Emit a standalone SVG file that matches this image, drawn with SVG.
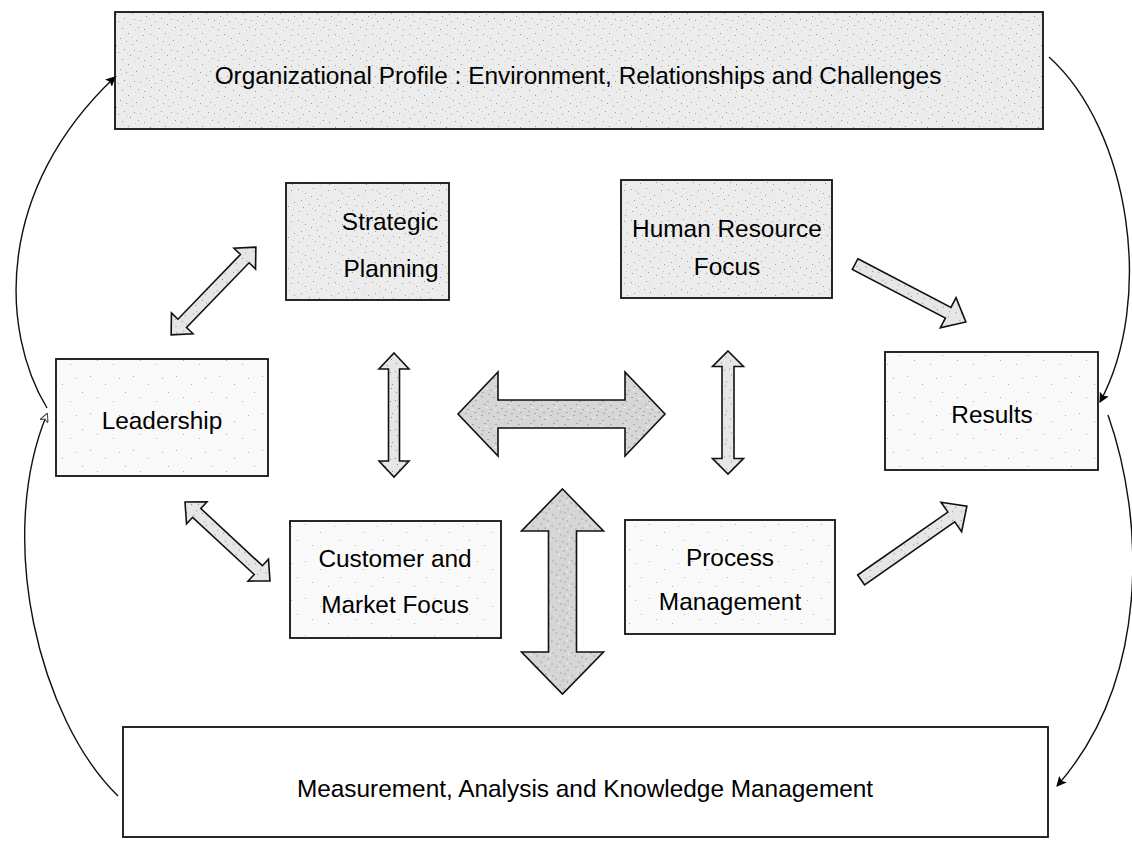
<svg xmlns="http://www.w3.org/2000/svg" width="1132" height="841" viewBox="0 0 1132 841">
<defs>
  <pattern id="spk" width="37" height="31" patternUnits="userSpaceOnUse">
    <rect width="37" height="31" fill="#ececec"/>
    <g fill="#9a9a9a">
      <rect x="2" y="3" width="1" height="1"/><rect x="9" y="7" width="1" height="1"/><rect x="17" y="2" width="1" height="1"/>
      <rect x="25" y="9" width="1" height="1"/><rect x="32" y="4" width="1" height="1"/><rect x="5" y="14" width="1" height="1"/>
      <rect x="13" y="18" width="1" height="1"/><rect x="21" y="13" width="1" height="1"/><rect x="29" y="20" width="1" height="1"/>
      <rect x="35" y="16" width="1" height="1"/><rect x="3" y="25" width="1" height="1"/><rect x="11" y="28" width="1" height="1"/>
      <rect x="19" y="24" width="1" height="1"/><rect x="27" y="27" width="1" height="1"/><rect x="33" y="29" width="1" height="1"/>
      <rect x="15" y="10" width="1" height="1"/><rect x="7" y="21" width="1" height="1"/><rect x="23" y="19" width="1" height="1"/>
    </g>
    <g fill="#c8c8c8">
      <rect x="6" y="5" width="1" height="1"/><rect x="20" y="6" width="1" height="1"/><rect x="30" y="11" width="1" height="1"/>
      <rect x="1" y="18" width="1" height="1"/><rect x="16" y="22" width="1" height="1"/><rect x="24" y="30" width="1" height="1"/>
      <rect x="34" y="23" width="1" height="1"/><rect x="10" y="12" width="1" height="1"/>
    </g>
  </pattern>
  <pattern id="spkL" width="43" height="37" patternUnits="userSpaceOnUse">
    <rect width="43" height="37" fill="#fafafa"/>
    <g fill="#b0b0b0">
      <rect x="4" y="6" width="1" height="1"/><rect x="19" y="14" width="1" height="1"/><rect x="33" y="8" width="1" height="1"/>
      <rect x="11" y="27" width="1" height="1"/><rect x="27" y="31" width="1" height="1"/><rect x="39" y="22" width="1" height="1"/>
    </g>
  </pattern>
  <pattern id="spkA" width="29" height="23" patternUnits="userSpaceOnUse">
    <rect width="29" height="23" fill="#e6e6e6"/>
    <g fill="#8c8c8c">
      <rect x="2" y="2" width="1" height="1"/><rect x="8" y="6" width="1" height="1"/><rect x="15" y="3" width="1" height="1"/>
      <rect x="22" y="8" width="1" height="1"/><rect x="27" y="1" width="1" height="1"/><rect x="4" y="12" width="1" height="1"/>
      <rect x="11" y="15" width="1" height="1"/><rect x="18" y="11" width="1" height="1"/><rect x="25" y="17" width="1" height="1"/>
      <rect x="6" y="20" width="1" height="1"/><rect x="14" y="21" width="1" height="1"/><rect x="20" y="19" width="1" height="1"/>
    </g>
  </pattern>
  <pattern id="spkD" width="23" height="19" patternUnits="userSpaceOnUse">
    <rect width="23" height="19" fill="#d6d6d6"/>
    <g fill="#7a7a7a">
      <rect x="1" y="2" width="1" height="1"/><rect x="6" y="5" width="1" height="1"/><rect x="12" y="1" width="1" height="1"/>
      <rect x="18" y="6" width="1" height="1"/><rect x="3" y="10" width="1" height="1"/><rect x="9" y="13" width="1" height="1"/>
      <rect x="15" y="9" width="1" height="1"/><rect x="21" y="14" width="1" height="1"/><rect x="5" y="17" width="1" height="1"/>
      <rect x="13" y="16" width="1" height="1"/><rect x="19" y="18" width="1" height="1"/>
    </g>
    <g fill="#f4f4f4">
      <rect x="8" y="3" width="2" height="1"/><rect x="16" y="12" width="2" height="1"/><rect x="2" y="14" width="2" height="1"/>
    </g>
  </pattern>
  <marker id="ah" viewBox="0 0 10 10" refX="9" refY="5" markerWidth="10" markerHeight="10" markerUnits="userSpaceOnUse" orient="auto">
    <path d="M0,0 L10,5 L0,10 L2,5 Z" fill="#000"/>
  </marker>
  <marker id="ahOpen" viewBox="0 0 10 10" refX="9" refY="5" markerWidth="9" markerHeight="9" markerUnits="userSpaceOnUse" orient="auto">
    <path d="M0,0 L10,5 L0,10 L3,5 Z" fill="#fff" stroke="#444" stroke-width="1.2"/>
  </marker>
</defs>
<style>
  .box { stroke: #111; stroke-width: 1.8; }
  .lbl { font-family: "Liberation Sans", Arial, sans-serif; font-size: 24.4px; fill: #000; text-anchor: middle; }
  .blk { stroke: #111; stroke-width: 1.6; stroke-linejoin: miter; }
  .curve { fill: none; stroke: #111; stroke-width: 1.4; }
</style>

<g id="connectors">
  <path class="curve" d="M118,796 C 40,720 -5,540 47,414" marker-end="url(#ahOpen)"/>
  <path class="curve" d="M47,408 C 0,330 -5,190 115,77"  marker-end="url(#ah)"/>
  <path class="curve" d="M1049,57 C 1130,130 1155,300 1100,402" marker-end="url(#ah)"/>
  <path class="curve" d="M1108,415 C 1145,520 1150,680 1057,786" marker-end="url(#ah)"/>

  <polygon class="blk" fill="url(#spkA)" transform="translate(213.5,291) rotate(-46)" points="-61,0 -45,-15 -45,-6 45,-6 45,-15 61,0 45,15 45,6 -45,6 -45,15"/>
  <polygon class="blk" fill="url(#spkA)" transform="translate(227.5,541.5) rotate(42.9)" points="-58,0 -42,-15 -42,-6 42,-6 42,-15 58,0 42,15 42,6 -42,6 -42,15"/>
  <polygon class="blk" fill="url(#spkA)" transform="translate(394,415) rotate(90)" points="-62,0 -46,-15 -46,-5.5 46,-5.5 46,-15 62,0 46,15 46,5.5 -46,5.5 -46,15"/>
  <polygon class="blk" fill="url(#spkA)" transform="translate(728,412.5) rotate(90)" points="-61.5,0 -46,-15.5 -46,-6 46,-6 46,-15.5 61.5,0 46,15.5 46,6 -46,6 -46,15.5"/>
  <polygon class="blk" fill="url(#spkD)" transform="translate(561.5,414)" points="-103.5,0 -63.5,-42 -63.5,-14 63.5,-14 63.5,-42 103.5,0 63.5,42 63.5,14 -63.5,14 -63.5,42"/>
  <polygon class="blk" fill="url(#spkD)" transform="translate(562.5,591.5) rotate(90)" points="-102.5,0 -60.5,-41 -60.5,-14 60.5,-14 60.5,-41 102.5,0 60.5,41 60.5,14 -60.5,14 -60.5,41"/>
  <polygon class="blk" fill="url(#spkA)" transform="translate(910.5,293) rotate(27.6)" points="-62.5,-6 42.5,-6 42.5,-17 62.5,0 42.5,17 42.5,6 -62.5,6"/>
  <polygon class="blk" fill="url(#spkA)" transform="translate(914,543) rotate(-34.9)" points="-64.5,-6 45.5,-6 45.5,-18 64.5,0 45.5,18 45.5,6 -64.5,6"/>
</g>

<g id="profile">
  <rect class="box" x="115" y="12" width="928" height="117" fill="url(#spk)"/>
  <text class="lbl" x="578" y="84">Organizational Profile : Environment, Relationships and Challenges</text>
</g>
<g id="strategic">
  <rect class="box" x="286" y="183" width="163" height="117" fill="url(#spk)"/>
  <text class="lbl" x="390" y="230">Strategic</text>
  <text class="lbl" x="391" y="277">Planning</text>
</g>
<g id="hr">
  <rect class="box" x="621" y="180" width="211" height="118" fill="url(#spk)"/>
  <text class="lbl" x="727" y="237">Human Resource</text>
  <text class="lbl" x="727" y="275">Focus</text>
</g>
<g id="leadership">
  <rect class="box" x="56" y="359" width="212" height="117" fill="url(#spkL)"/>
  <text class="lbl" x="162" y="429">Leadership</text>
</g>
<g id="results">
  <rect class="box" x="885" y="352" width="213" height="118" fill="url(#spkL)"/>
  <text class="lbl" x="992" y="423">Results</text>
</g>
<g id="customer">
  <rect class="box" x="290" y="521" width="211" height="117" fill="url(#spkL)"/>
  <text class="lbl" x="395" y="567">Customer and</text>
  <text class="lbl" x="395" y="613">Market Focus</text>
</g>
<g id="process">
  <rect class="box" x="625" y="520" width="210" height="114" fill="url(#spkL)"/>
  <text class="lbl" x="730" y="566">Process</text>
  <text class="lbl" x="730" y="610">Management</text>
</g>
<g id="measurement">
  <rect class="box" x="123" y="727" width="925" height="110" fill="#fff"/>
  <text class="lbl" x="585" y="797">Measurement, Analysis and Knowledge Management</text>
</g>
</svg>
